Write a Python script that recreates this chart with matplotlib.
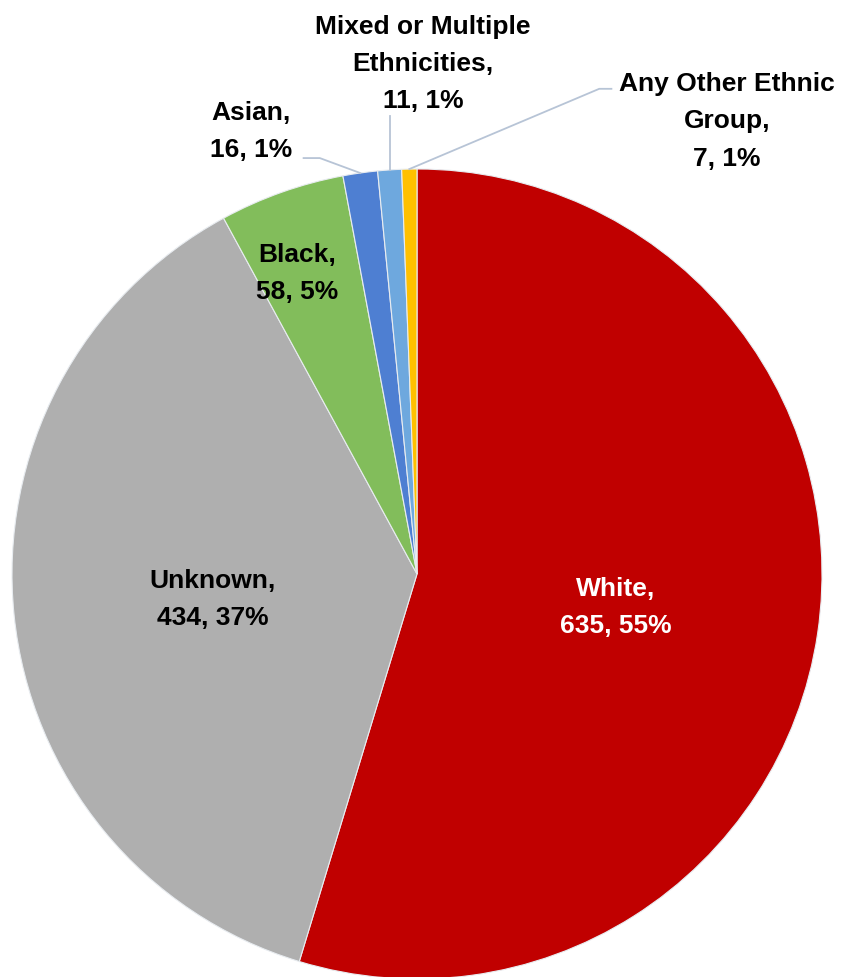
import numpy as np
import matplotlib
matplotlib.use("Agg")
import matplotlib.pyplot as plt

categories = ["White", "Unknown", "Black", "Asian", "Mixed or Multiple\nEthnicities", "Any Other Ethnic\nGroup"]
values = [635, 434, 58, 16, 11, 7]
colors = ["#C00000", "#AFAFAF", "#82BD5B", "#4E7FD2", "#6EA8DE", "#FFC000"]
text_colors = ["white", "black", "black", "black", "black", "black"]

# label anchor positions (in pie radius units) for each category
label_pos = [(0.49, -0.08), (-0.505, -0.06), (-0.296, 0.745), (-0.41, 1.095), (0.015, 1.262), (0.765, 1.12)]

W, H = 841, 978
fig = plt.figure(figsize=(W / 100, H / 100), dpi=100)
R = 405
cx, cy = 417, 575
ax = fig.add_axes([(cx - R) / W, (H - cy - R) / H, 2 * R / W, 2 * R / H])

wedges, _ = ax.pie(values, colors=colors, startangle=90, counterclock=False,
                   radius=1.0, wedgeprops=dict(edgecolor="#E8ECF0", linewidth=0.8))
ax.set_xlim(-1, 1)
ax.set_ylim(-1, 1)
ax.set_aspect("auto")
ax.axis("off")

total = sum(values)
for cat, v, (lx, ly), tc in zip(categories, values, label_pos, text_colors):
    pct = int(round(100 * v / total))
    txt = f"{cat},\n{v}, {pct}%"
    ax.text(lx, ly, txt, ha="center", va="center", fontsize=19, fontweight="bold",
            color=tc, family="Liberation Sans", linespacing=1.7)

# leader lines from slice rims to outside labels
ang = {i: np.deg2rad((wedges[i].theta1 + wedges[i].theta2) / 2) for i in range(len(values))}
line_kw = dict(color="#B7C4D6", lw=1.3, clip_on=False)
# Asian: rim -> short elbow -> label right side
a = ang[3]
ax.plot([np.cos(a), -0.24, -0.28], [np.sin(a), 1.027, 1.027], **line_kw)
# Mixed: straight up from rim
a = ang[4]
ax.plot([np.cos(a), np.cos(a)], [np.sin(a), 1.13], **line_kw)
# Other: rim -> diagonal -> label left side
a = ang[5]
ax.plot([np.cos(a), 0.45, 0.48], [np.sin(a), 1.198, 1.198], **line_kw)

fig.savefig("out.png", dpi=100, facecolor="white")
